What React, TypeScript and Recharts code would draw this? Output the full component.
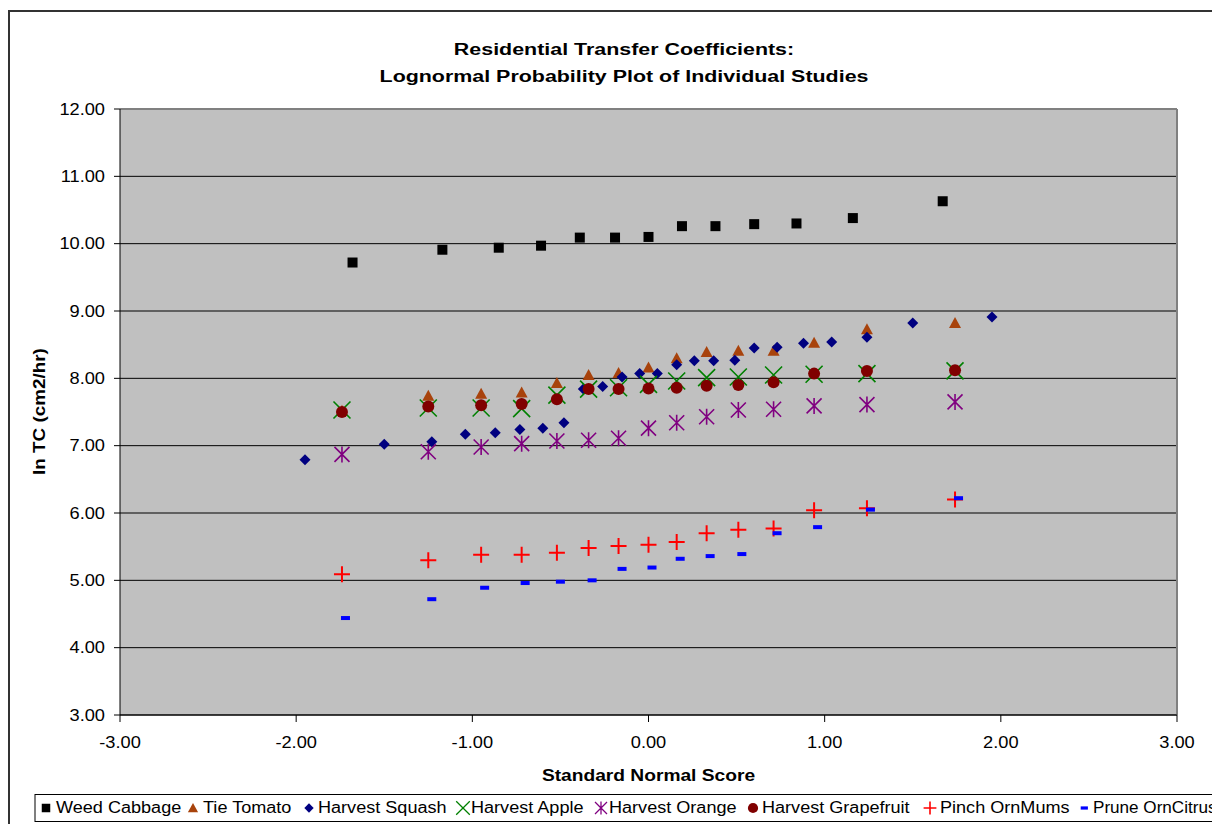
import { ScatterChart, Scatter, XAxis, YAxis, CartesianGrid, ReferenceLine } from 'recharts'

// axis ticks
const xTicks = [-3, -2, -1, 0, 1, 2, 3]
const yTicks = [3, 4, 5, 6, 7, 8, 9, 10, 11, 12]

// normal scores (x)
const cabbageScores = [-1.68, -1.17, -0.85, -0.61, -0.39, -0.19, 0.0, 0.19, 0.38, 0.6, 0.84, 1.16, 1.67]
const studyScores = [-1.74, -1.25, -0.95, -0.72, -0.52, -0.34, -0.17, 0.0, 0.16, 0.33, 0.51, 0.71, 0.94, 1.24, 1.74]
const squashScores = [
  -1.95, -1.5, -1.23, -1.04, -0.87, -0.73, -0.6, -0.48, -0.37, -0.26, -0.15, -0.05,
  0.05, 0.16, 0.26, 0.37, 0.49, 0.6, 0.73, 0.88, 1.04, 1.24, 1.5, 1.95,
]

// ln TC values
const cabbageTC = [9.72, 9.91, 9.94, 9.97, 10.09, 10.09, 10.1, 10.26, 10.26, 10.29, 10.3, 10.38, 10.63]
const tomatoTC = [7.52, 7.74, 7.77, 7.79, 7.93, 8.05, 8.08, 8.16, 8.3, 8.39, 8.41, 8.41, 8.53, 8.73, 8.82]
const squashTC = [
  6.79, 7.02, 7.06, 7.17, 7.19, 7.24, 7.26, 7.34, 7.84, 7.88, 8.02, 8.07,
  8.07, 8.2, 8.26, 8.26, 8.27, 8.45, 8.46, 8.52, 8.54, 8.61, 8.82, 8.91,
]
const appleTC = [7.53, 7.56, 7.56, 7.55, 7.75, 7.84, 7.86, 7.91, 7.96, 8.01, 8.02, 8.05, 8.06, 8.07, 8.11]
const orangeTC = [6.87, 6.91, 6.98, 7.03, 7.07, 7.08, 7.11, 7.26, 7.34, 7.43, 7.53, 7.54, 7.59, 7.61, 7.65]
const grapefruitTC = [7.5, 7.58, 7.6, 7.62, 7.69, 7.84, 7.84, 7.85, 7.86, 7.89, 7.9, 7.94, 8.07, 8.11, 8.12]
const mumsTC = [5.09, 5.3, 5.38, 5.38, 5.41, 5.48, 5.51, 5.53, 5.57, 5.7, 5.75, 5.77, 6.04, 6.07, 6.2]
const citrusTC = [4.44, 4.72, 4.89, 4.96, 4.98, 5.0, 5.17, 5.19, 5.32, 5.36, 5.39, 5.7, 5.79, 6.05, 6.22]

const seriesNames = [
  'Weed Cabbage',
  'Tie Tomato',
  'Harvest Squash',
  'Harvest Apple',
  'Harvest Orange',
  'Harvest Grapefruit',
  'Pinch OrnMums',
  'Prune OrnCitrus',
]

const FONT = '"Liberation Sans", Arial, sans-serif'

const toPoints = (xs: number[], ys: number[]) => xs.map((x, i) => ({ x, y: ys[i] }))

type P = { cx?: number; cy?: number }

const Square = ({ cx = 0, cy = 0 }: P) => <rect x={cx - 5} y={cy - 5} width={10} height={10} fill="#000000" />
const Triangle = ({ cx = 0, cy = 0 }: P) => (
  <polygon points={`${cx},${cy - 6} ${cx + 6},${cy + 5} ${cx - 6},${cy + 5}`} fill="#A8430C" />
)
const Diamond = ({ cx = 0, cy = 0 }: P) => (
  <polygon points={`${cx},${cy - 5.5} ${cx + 5.5},${cy} ${cx},${cy + 5.5} ${cx - 5.5},${cy}`} fill="#000080" />
)
const Cross = ({ cx = 0, cy = 0 }: P) => (
  <path d={`M${cx - 8.5},${cy - 8.5}L${cx + 8.5},${cy + 8.5}M${cx - 8.5},${cy + 8.5}L${cx + 8.5},${cy - 8.5}`} stroke="#008000" strokeWidth={1.6} fill="none" />
)
const Asterisk = ({ cx = 0, cy = 0 }: P) => (
  <path
    d={`M${cx - 7.5},${cy - 7.5}L${cx + 7.5},${cy + 7.5}M${cx - 7.5},${cy + 7.5}L${cx + 7.5},${cy - 7.5}M${cx},${cy - 8}L${cx},${cy + 8}`}
    stroke="#800080"
    strokeWidth={1.6}
    fill="none"
  />
)
const Dot = ({ cx = 0, cy = 0 }: P) => <circle cx={cx} cy={cy} r={6} fill="#800000" />
const Plus = ({ cx = 0, cy = 0 }: P) => (
  <path d={`M${cx - 8},${cy}L${cx + 8},${cy}M${cx},${cy - 8}L${cx},${cy + 8}`} stroke="#FF0000" strokeWidth={2} fill="none" />
)
const Dash = ({ cx = 0, cy = 0 }: P) => <rect x={cx - 1} y={cy - 2} width={9} height={4} fill="#0000FF" />

const shapes = [Square, Triangle, Diamond, Cross, Asterisk, Dot, Plus, Dash]

const series = [
  toPoints(cabbageScores, cabbageTC),
  toPoints(studyScores, tomatoTC),
  toPoints(squashScores, squashTC),
  toPoints(studyScores, appleTC),
  toPoints(studyScores, orangeTC),
  toPoints(studyScores, grapefruitTC),
  toPoints(studyScores, mumsTC),
  toPoints(studyScores, citrusTC),
]

const YTick = (props: any) => {
  const { x, y, payload } = props
  return (
    <g transform={`translate(${x},${y})`}>
      <text textAnchor="end" dy="0.355em" transform="scale(1.14,1)" fontSize={16} fill="#000" fontFamily={FONT}>
        {Number(payload.value).toFixed(2)}
      </text>
    </g>
  )
}

const XTick = (props: any) => {
  const { x, y, payload } = props
  return (
    <g transform={`translate(${x},${y})`}>
      <text textAnchor="middle" dy="0.71em" transform="scale(1.14,1)" fontSize={16} fill="#000" fontFamily={FONT}>
        {Number(payload.value).toFixed(2)}
      </text>
    </g>
  )
}

// legend item positions (marker centre, text start), in page px minus body margin
const legendMarkX = [38, 185, 301, 455, 593, 745, 922, 1073.5]
const legendTextX = [48, 195, 310, 463, 601, 754, 932, 1085]

export default function App() {
  return (
    <div style={{ position: 'relative', width: 1212, height: 816, overflow: 'hidden', background: '#fff', fontFamily: FONT }}>
      <div style={{ position: 'absolute', left: 0, top: 2, width: 1400, height: 1000, border: '2px solid #333', boxSizing: 'border-box' }} />
      <div style={{ position: 'absolute', left: 0, top: 0 }}>
        <ScatterChart width={1212} height={816} margin={{ top: 101, right: 43, left: 32, bottom: 69 }}>
          <CartesianGrid vertical={false} stroke="#000" fill="#C0C0C0" fillOpacity={1} />
          <XAxis
            type="number"
            dataKey="x"
            domain={[-3, 3]}
            ticks={xTicks}
            height={40}
            tickSize={7}
            tickMargin={15}
            tick={<XTick />}
            axisLine={{ stroke: '#000' }}
            tickLine={{ stroke: '#000' }}
            allowDataOverflow
          />
          <YAxis
            type="number"
            dataKey="y"
            domain={[3, 12]}
            ticks={yTicks}
            width={80}
            tickSize={6}
            tickMargin={9}
            tick={<YTick />}
            axisLine={{ stroke: '#000' }}
            tickLine={{ stroke: '#000' }}
            allowDataOverflow
          />
          <ReferenceLine y={12} stroke="#808080" strokeWidth={2} />
          <ReferenceLine x={3} stroke="#808080" strokeWidth={2} />
          {series.map((data, i) => (
            <Scatter key={seriesNames[i]} name={seriesNames[i]} data={data} shape={shapes[i] as any} isAnimationActive={false} />
          ))}
        </ScatterChart>
      </div>
      <svg width={1212} height={816} style={{ position: 'absolute', left: 0, top: 0, pointerEvents: 'none' }} fontFamily={FONT}>
        <text textAnchor="middle" fontWeight="bold" fontSize={17} transform="translate(616,46.7) scale(1.26,1)">
          Residential Transfer Coefficients:
        </text>
        <text textAnchor="middle" fontWeight="bold" fontSize={17} transform="translate(616,74) scale(1.26,1)">
          Lognormal Probability Plot of Individual Studies
        </text>
        <text textAnchor="middle" fontWeight="bold" fontSize={16} transform="translate(640.5,772.7) scale(1.2,1)">
          Standard Normal Score
        </text>
        <text textAnchor="middle" fontWeight="bold" fontSize={16} transform="translate(37,403.6) rotate(-90) scale(1.18,1)">
          ln TC (cm2/hr)
        </text>
        <rect x={27} y={786.5} width={1300} height={27} fill="#fff" stroke="#000" strokeWidth={1} />
        {seriesNames.map((name, i) => {
          const Shape = shapes[i]
          const small = i === 0 || i === 1 || i === 2 || i === 5
          const last = i === seriesNames.length - 1
          return (
            <g key={name}>
              <g transform={`translate(${legendMarkX[i]},800) scale(${small ? 0.85 : 0.8}) translate(${-legendMarkX[i]},-800)`}>
                <Shape cx={legendMarkX[i]} cy={800} />
              </g>
              <text fontSize={16} transform={`translate(${legendTextX[i]},805.3) scale(${last ? 1.07 : 1.13},1)`}>
                {name}
              </text>
            </g>
          )
        })}
      </svg>
    </div>
  )
}
